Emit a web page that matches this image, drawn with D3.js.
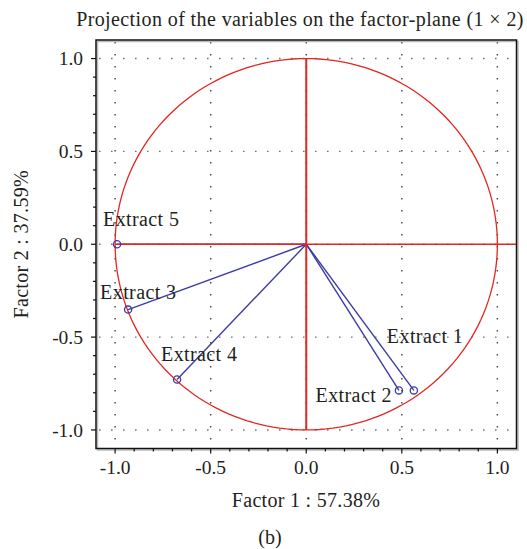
<!DOCTYPE html>
<html>
<head>
<meta charset="utf-8">
<script src="https://cdn.jsdelivr.net/npm/d3@7"></script>
<style>
  html, body { margin: 0; padding: 0; background: #fff; }
  svg { display: block; }
  text { font-family: "Liberation Serif", "Times New Roman", serif; fill: #231f20; }
</style>
</head>
<body>
<svg id="chart" width="527" height="549"></svg>
<script>
// Variable coordinates on factors 1 and 2
const variables = ["Extract 1", "Extract 2", "Extract 3", "Extract 4", "Extract 5"];
const factor1 = [0.563, 0.485, -0.932, -0.676, -0.990];
const factor2 = [-0.787, -0.787, -0.352, -0.728, 0.000];

const majorTicks = [-1.0, -0.5, 0.0, 0.5, 1.0];
const tickLabels = ["-1.0", "-0.5", "0.0", "0.5", "1.0"];

const titleText = "Projection of the variables on the factor-plane (1 \u00d7 2)";
const xLabel = "Factor 1 : 57.38%";
const yLabel = "Factor 2 : 37.59%";
const panelLabel = "(b)";

const svg = d3.select("#chart");
const plot = { left: 96, top: 40, right: 516.5, bottom: 448.5 };

const x = d3.scaleLinear().domain([-1.1, 1.1]).range([plot.left, plot.right]);
const y = d3.scaleLinear().domain([-1.1, 1.1]).range([plot.bottom, plot.top]);

const RED = "#e3261f";
const BLUE = "#3b3ba6";
const minorTicks = d3.range(-10, 11).map(d => d / 10);

// dotted grid at major ticks
const grid = svg.append("g");
grid.selectAll("line.gx").data(majorTicks).join("line")
  .attr("x1", d => x(d)).attr("x2", d => x(d))
  .attr("y1", plot.top + 2).attr("y2", plot.bottom - 2)
  .attr("stroke", "#444").attr("stroke-width", 1.4)
  .attr("stroke-dasharray", "1.4,10.6");
grid.selectAll("line.gy").data(majorTicks).join("line")
  .attr("y1", d => y(d)).attr("y2", d => y(d))
  .attr("x1", plot.left + 3).attr("x2", plot.right - 2)
  .attr("stroke", "#777").attr("stroke-width", 1.4)
  .attr("stroke-dasharray", "1.6,10.4");

// variable vectors
const pts = variables.map((name, i) => ({ name, fx: factor1[i], fy: factor2[i] }));
svg.append("g").selectAll("line").data(pts).join("line")
  .attr("x1", x(0)).attr("y1", y(0))
  .attr("x2", d => x(d.fx)).attr("y2", d => y(d.fy))
  .attr("stroke", BLUE).attr("stroke-width", 1.4);

// unit circle and reference axes, drawn over the vectors
const circlePts = d3.range(0, 361, 2).map(a => [Math.cos(a * Math.PI / 180), Math.sin(a * Math.PI / 180)]);
svg.append("path")
  .attr("d", d3.line().x(d => x(d[0])).y(d => y(d[1]))(circlePts))
  .attr("fill", "none").attr("stroke", RED).attr("stroke-width", 1.3);
svg.append("line")
  .attr("x1", x(-1)).attr("x2", plot.right).attr("y1", y(0)).attr("y2", y(0))
  .attr("stroke", RED).attr("stroke-width", 1.6);
svg.append("line")
  .attr("x1", x(0)).attr("x2", x(0)).attr("y1", y(1)).attr("y2", y(-1))
  .attr("stroke", RED).attr("stroke-width", 2);

svg.append("g").selectAll("circle").data(pts).join("circle")
  .attr("cx", d => x(d.fx)).attr("cy", d => y(d.fy)).attr("r", 3.6)
  .attr("fill", "none").attr("stroke", BLUE).attr("stroke-width", 1.3);

// label placement relative to each vector tip
const labelOffset = {
  "Extract 1": { dx: -27, dy: -47, anchor: "start" },
  "Extract 2": { dx: -7, dy: 12, anchor: "end" },
  "Extract 3": { dx: -28, dy: -11, anchor: "start" },
  "Extract 4": { dx: -16, dy: -18, anchor: "start" },
  "Extract 5": { dx: -14, dy: -18, anchor: "start" }
};
svg.append("g").selectAll("text").data(pts).join("text")
  .attr("x", d => x(d.fx) + labelOffset[d.name].dx)
  .attr("y", d => y(d.fy) + labelOffset[d.name].dy)
  .attr("text-anchor", d => labelOffset[d.name].anchor)
  .attr("font-size", 20).attr("letter-spacing", 0.4)
  .text(d => d.name);

// frame with a faint shadow
svg.append("rect")
  .attr("x", plot.left + 1.5).attr("y", plot.top + 1.5)
  .attr("width", plot.right - plot.left).attr("height", plot.bottom - plot.top)
  .attr("fill", "none").attr("stroke", "#bbb").attr("stroke-width", 1.5);
svg.append("rect")
  .attr("x", plot.left).attr("y", plot.top)
  .attr("width", plot.right - plot.left).attr("height", plot.bottom - plot.top)
  .attr("fill", "none").attr("stroke", "#111").attr("stroke-width", 1.5);

// axes: outward minor ticks every 0.1, longer major ticks
function axisTicks(g, orient) {
  const isX = orient === "bottom";
  g.selectAll("line").data(minorTicks).join("line")
    .each(function (d) {
      const major = Math.abs(Math.round(d * 10) % 5) === 0;
      const len = major ? 5 : 3;
      const s = d3.select(this);
      if (isX) s.attr("x1", x(d)).attr("x2", x(d)).attr("y1", plot.bottom).attr("y2", plot.bottom + len);
      else s.attr("y1", y(d)).attr("y2", y(d)).attr("x1", plot.left).attr("x2", plot.left - len);
    })
    .attr("stroke", "#111").attr("stroke-width", 1.2);
}
axisTicks(svg.append("g"), "bottom");
axisTicks(svg.append("g"), "left");

svg.append("g").selectAll("text").data(majorTicks).join("text")
  .attr("x", d => x(d)).attr("y", 474)
  .attr("text-anchor", "middle").attr("font-size", 19.5)
  .text((d, i) => tickLabels[i]);
svg.append("g").selectAll("text").data(majorTicks).join("text")
  .attr("x", 83).attr("y", d => y(d)).attr("dy", "0.35em")
  .attr("text-anchor", "end").attr("font-size", 19.5)
  .text((d, i) => tickLabels[i]);

// titles
svg.append("text").attr("x", 300).attr("y", 26)
  .attr("text-anchor", "middle").attr("font-size", 20).attr("letter-spacing", 0.4).text(titleText);
svg.append("text").attr("x", 306).attr("y", 507)
  .attr("text-anchor", "middle").attr("font-size", 20).attr("letter-spacing", 0.3).text(xLabel);
svg.append("text")
  .attr("transform", `translate(28, ${y(0)}) rotate(-90)`)
  .attr("text-anchor", "middle").attr("font-size", 20).attr("letter-spacing", 0.3).text(yLabel);
svg.append("text").attr("x", 270).attr("y", 544)
  .attr("text-anchor", "middle").attr("font-size", 20).text(panelLabel);
</script>
</body>
</html>
